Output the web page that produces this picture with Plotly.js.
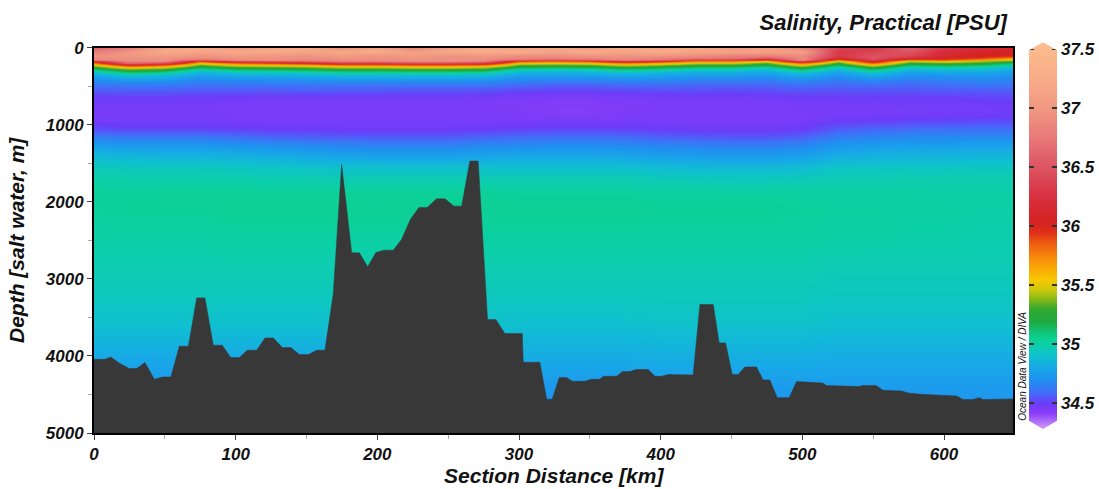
<!DOCTYPE html>
<html>
<head>
<meta charset="utf-8">
<script src="https://cdn.plot.ly/plotly-3.0.1.min.js"></script>
<style>html,body{margin:0;padding:0;background:#fff;}#chart{width:1099px;height:489px;}</style>
</head>
<body>
<div id="chart"></div>
<script>
// ---- Data ----
const distanceKm = [0,25,50,75,100,125,150,175,200,225,250,275,300,325,350,375,400,425,450,475,500,525,550,575,600,625,650];

// Upper water column: one profile per station (depths in upperDepths)
const upperDepths = [0,50,100,125,150,175,200,225,250,275,300,325,350,375];
const upperProfiles = [
  [36.60,36.80,36.95, 36.90,36.84,36.34,35.81,35.50,35.29,35.14,34.99,34.88,34.82,34.76],
  [36.80,37.00,37.00, 36.95,36.95,36.85,36.68,36.08,35.67,35.40,35.23,35.08,34.93,34.85],
  [37.15,37.25,37.05, 36.95,36.95,36.90,36.47,35.88,35.55,35.32,35.17,35.02,34.89,34.83],
  [37.25,37.15,36.95, 36.90,36.60,35.95,35.60,35.35,35.20,35.05,34.90,34.84,34.78,34.74],
  [37.05,37.20,37.00, 36.95,36.90,36.47,35.88,35.55,35.32,35.17,35.02,34.89,34.83,34.77],
  [37.20,37.25,37.00, 36.95,36.95,36.60,35.95,35.60,35.35,35.20,35.05,34.90,34.84,34.78],
  [37.25,37.15,36.95, 36.95,36.85,36.68,36.08,35.67,35.40,35.23,35.08,34.93,34.85,34.79],
  [36.95,37.20,37.05, 36.95,36.90,36.84,36.34,35.81,35.50,35.29,35.14,34.99,34.88,34.82],
  [37.15,37.25,36.95, 36.95,36.90,36.84,36.34,35.81,35.50,35.29,35.14,34.99,34.88,34.82],
  [36.85,37.10,37.05, 36.95,36.95,36.90,36.47,35.88,35.55,35.32,35.17,35.02,34.89,34.83],
  [37.10,37.20,36.95, 36.95,36.95,36.90,36.47,35.88,35.55,35.32,35.17,35.02,34.89,34.83],
  [37.25,37.25,37.00, 36.95,36.90,36.84,36.34,35.81,35.50,35.29,35.14,34.99,34.88,34.82],
  [37.15,37.25,36.90, 36.90,36.60,35.95,35.60,35.35,35.20,35.05,34.90,34.84,34.78,34.74],
  [37.25,37.15,36.90, 36.85,36.47,35.88,35.55,35.32,35.17,35.02,34.89,34.83,34.77,34.73],
  [37.05,37.25,36.95, 36.90,36.60,35.95,35.60,35.35,35.20,35.05,34.90,34.84,34.78,34.74],
  [37.25,37.15,36.95, 36.90,36.84,36.34,35.81,35.50,35.29,35.14,34.99,34.88,34.82,34.76],
  [37.15,37.25,36.95, 36.85,36.68,36.08,35.67,35.40,35.23,35.08,34.93,34.85,34.79,34.75],
  [37.25,37.15,36.90, 36.80,36.34,35.81,35.50,35.29,35.14,34.99,34.88,34.82,34.76,34.72],
  [37.05,37.15,36.80, 36.75,36.34,35.81,35.50,35.29,35.14,34.99,34.88,34.82,34.76,34.72],
  [37.15,37.10,36.80, 36.55,35.95,35.60,35.35,35.20,35.05,34.90,34.84,34.78,34.74,34.70],
  [36.85,37.10,36.90, 36.90,36.90,36.47,35.88,35.55,35.32,35.17,35.02,34.89,34.83,34.77],
  [36.40,36.30,36.30, 36.20,35.81,35.50,35.29,35.14,34.99,34.88,34.82,34.76,34.72,34.69],
  [36.30,36.40,36.50, 36.50,36.40,36.20,35.88,35.55,35.32,35.17,35.02,34.89,34.83,34.77],
  [36.60,36.50,36.40, 36.20,35.81,35.50,35.29,35.14,34.99,34.88,34.82,34.76,34.72,34.69],
  [36.30,36.20,36.15, 36.05,35.90,35.60,35.35,35.20,35.05,34.90,34.84,34.78,34.74,34.70],
  [36.20,36.10,36.05, 35.95,35.70,35.45,35.30,35.15,35.00,34.90,34.84,34.79,34.75,34.72],
  [36.10,36.05,36.00, 35.70,35.50,35.32,35.15,35.00,34.90,34.84,34.79,34.75,34.72,34.69]
];

// Deep water column: one row per depth (deepDepths), one value per station
const deepDepths = [450,550,650,750,850,950,1050,1150,1250,1350,1450,1550,1700,1900,2100,2400,2800,3200,3600,4000,4400,4800,5000];
const deepRows = [
  [34.64,34.66,34.66,34.63,34.64,34.64,34.64,34.64,34.64,34.64,34.64,34.64,34.62,34.60,34.60,34.62,34.62,34.60,34.60,34.60,34.63,34.60,34.62,34.60,34.62,34.64,34.64],
  [34.56,34.57,34.57,34.56,34.56,34.56,34.57,34.56,34.56,34.55,34.55,34.55,34.53,34.52,34.52,34.53,34.54,34.54,34.53,34.54,34.55,34.55,34.55,34.55,34.56,34.56,34.57],
  [34.50,34.50,34.50,34.49,34.49,34.48,34.48,34.48,34.48,34.48,34.48,34.47,34.46,34.45,34.45,34.46,34.47,34.47,34.47,34.48,34.49,34.49,34.50,34.50,34.50,34.51,34.52],
  [34.47,34.47,34.47,34.47,34.46,34.46,34.46,34.46,34.46,34.46,34.46,34.46,34.45,34.44,34.44,34.45,34.46,34.46,34.46,34.46,34.47,34.47,34.47,34.48,34.48,34.48,34.49],
  [34.47,34.46,34.46,34.47,34.46,34.46,34.46,34.46,34.46,34.46,34.46,34.46,34.45,34.44,34.44,34.45,34.46,34.46,34.46,34.46,34.46,34.47,34.47,34.47,34.48,34.48,34.49],
  [34.48,34.48,34.48,34.48,34.47,34.47,34.47,34.47,34.47,34.47,34.47,34.47,34.47,34.47,34.47,34.47,34.47,34.46,34.46,34.46,34.47,34.50,34.51,34.52,34.52,34.53,34.53],
  [34.53,34.52,34.52,34.52,34.51,34.50,34.50,34.49,34.49,34.49,34.49,34.50,34.51,34.52,34.52,34.51,34.50,34.49,34.49,34.49,34.50,34.56,34.58,34.59,34.60,34.60,34.60],
  [34.64,34.62,34.62,34.62,34.60,34.58,34.57,34.56,34.56,34.56,34.56,34.58,34.59,34.60,34.60,34.59,34.57,34.56,34.55,34.55,34.57,34.64,34.66,34.68,34.68,34.68,34.68],
  [34.74,34.72,34.72,34.72,34.70,34.68,34.66,34.65,34.64,34.64,34.64,34.66,34.67,34.68,34.68,34.67,34.65,34.64,34.63,34.63,34.65,34.72,34.74,34.75,34.75,34.76,34.76],
  [34.84,34.82,34.81,34.81,34.80,34.78,34.76,34.74,34.73,34.73,34.73,34.75,34.76,34.76,34.76,34.75,34.73,34.72,34.71,34.71,34.73,34.79,34.81,34.82,34.82,34.83,34.83],
  [34.90,34.89,34.88,34.88,34.87,34.86,34.84,34.83,34.82,34.82,34.82,34.83,34.84,34.84,34.84,34.83,34.81,34.80,34.79,34.79,34.81,34.86,34.87,34.88,34.88,34.89,34.89],
  [34.95,34.94,34.94,34.94,34.93,34.92,34.91,34.90,34.90,34.90,34.90,34.90,34.90,34.90,34.90,34.90,34.88,34.87,34.87,34.87,34.88,34.92,34.93,34.93,34.93,34.94,34.94],
  [35.00,34.99,34.99,34.99,34.99,34.98,34.98,34.97,34.97,34.97,34.97,34.97,34.97,34.97,34.97,34.97,34.96,34.96,34.95,34.95,34.96,34.97,34.97,34.98,34.98,34.98,34.98],
  [35.03,35.03,35.04,35.04,35.04,35.04,35.04,35.04,35.04,35.04,35.04,35.04,35.03,35.03,35.03,35.03,35.02,35.02,35.02,35.02,35.02,35.01,35.01,35.01,35.00,35.00,35.00],
  [35.03,35.04,35.04,35.04,35.05,35.05,35.05,35.05,35.05,35.05,35.05,35.05,35.05,35.05,35.05,35.05,35.04,35.04,35.04,35.04,35.03,35.02,35.02,35.01,35.01,35.00,35.00],
  [35.01,35.01,35.01,35.01,35.02,35.02,35.02,35.02,35.02,35.02,35.02,35.02,35.02,35.02,35.02,35.02,35.02,35.02,35.02,35.02,35.02,35.01,35.01,35.00,35.00,34.99,34.99],
  [34.98,34.98,34.98,34.98,34.98,34.98,34.98,34.98,34.98,34.98,34.98,34.98,34.98,34.98,34.98,34.98,34.98,34.98,34.98,34.98,34.98,34.97,34.97,34.97,34.97,34.97,34.97],
  [34.95,34.95,34.95,34.95,34.95,34.95,34.95,34.95,34.95,34.95,34.95,34.95,34.95,34.95,34.95,34.95,34.95,34.95,34.95,34.95,34.95,34.94,34.94,34.94,34.94,34.94,34.94],
  [34.90,34.90,34.90,34.90,34.90,34.90,34.90,34.90,34.90,34.90,34.90,34.90,34.90,34.90,34.90,34.90,34.91,34.91,34.91,34.91,34.91,34.90,34.90,34.90,34.90,34.90,34.90],
  [34.81,34.81,34.81,34.81,34.81,34.81,34.81,34.81,34.81,34.81,34.81,34.81,34.82,34.82,34.82,34.82,34.83,34.83,34.83,34.83,34.83,34.82,34.82,34.82,34.82,34.82,34.82],
  [34.74,34.74,34.74,34.74,34.74,34.74,34.74,34.74,34.74,34.74,34.74,34.74,34.74,34.74,34.74,34.74,34.75,34.75,34.75,34.75,34.75,34.75,34.75,34.75,34.75,34.75,34.75],
  [34.70,34.70,34.70,34.70,34.70,34.70,34.70,34.70,34.70,34.70,34.70,34.70,34.69,34.69,34.69,34.69,34.70,34.70,34.70,34.70,34.70,34.70,34.70,34.70,34.70,34.70,34.70],
  [34.68,34.68,34.68,34.68,34.68,34.68,34.68,34.68,34.68,34.68,34.68,34.68,34.68,34.68,34.68,34.68,34.68,34.68,34.68,34.68,34.68,34.68,34.68,34.68,34.68,34.68,34.68]
];

// Bottom topography along the section
const bathyKm = [0,7.8,11.8,18.3,24.9,30.1,36,42.6,48.5,54.3,60.2,66.6,72.5,78.3,84.2,90.5,96.5,102.6,108.2,114.8,120.7,126.6,132.9,139,144.9,151.3,157.2,163,168.9,174.8,181.9,187.3,193.2,199,204.7,211.2,217.1,223.4,229.4,235.2,241.8,247.7,254.1,259.5,265.3,271.2,277.8,283.7,290,302.3,303,314.7,319.5,323.4,328.4,333.6,337.5,346.5,351.2,357.1,359.5,368.9,373.1,378.3,382.3,391.2,395.9,400.6,405.3,422.9,427.7,437.1,441.3,445.8,450.5,454.7,459.4,467.6,472.3,477.1,482.2,490.7,495.9,500.6,505.3,514.3,517,537.8,540.6,541.8,551.9,557,570,574.7,584.1,608.8,613.5,620.5,624.8,627.6,639.4,641.3,649];
const bathyDepth = [4043,4043,4013,4099,4164,4164,4086,4303,4273,4273,3874,3874,3247,3247,3861,3861,4021,4021,3926,3926,3766,3766,3891,3891,3982,3982,3926,3926,3190,1515,2662,2662,2844,2657,2627,2627,2488,2225,2073,2073,1961,1961,2056,2056,1471,1471,3528,3528,3709,3709,4082,4082,4562,4562,4281,4281,4329,4329,4303,4303,4264,4264,4203,4203,4177,4177,4264,4264,4242,4246,3333,3333,3831,3831,4242,4242,4143,4143,4312,4312,4541,4541,4333,4337,4350,4350,4385,4390,4398,4385,4385,4446,4455,4481,4498,4519,4566,4566,4541,4566,4566,4558,4558];

const depthAxisMax = 5000;
const distAxisMax = 649;
const colorTicks = [34.5,35,35.5,36,36.5,37,37.5];
const colorTickText = ['34.5','35','35.5','36','36.5','37','37.5'];
const cMin = 34.28, cMax = 37.56;

// ODV-like palette (value, colour)
const paletteVals = [34.28,34.35,34.42,34.5,34.6,34.7,34.8,34.9,35.0,35.06,35.12,35.2,35.3,35.38,35.46,35.55,35.7,35.85,35.95,36.05,36.25,36.5,36.75,37.0,37.25,37.56];
const paletteCols = ['#dd9cfa','#b070f8','#8a3cf8','#6c3cf8','#4070f8','#2090f0','#18a8e8','#10c0d0','#0cd0a8','#0cd090','#14c070','#20a840','#30a830','#80b818','#c8c810','#f8c800','#f89808','#f06010','#e03018','#d42222','#d83040','#dc5462','#e87878','#f09882','#f8ac88','#fcbe8e'];

// ---- Build the tables Plotly needs ----
const depths = upperDepths.concat(deepDepths);
const upperRows = upperDepths.map((d, i) => upperProfiles.map(p => p[i]));
const z = upperRows.concat(deepRows);
const colorscale = paletteVals.map((v, i) => [(v - cMin) / (cMax - cMin), paletteCols[i]]);

const F = 'Liberation Sans, Arial, Helvetica, sans-serif';
const boldItalic = (size) => ({family: F, size: size, color: '#111', weight: 'bold', style: 'italic'});

const heat = {
  type: 'heatmap', xaxis: 'x', yaxis: 'y',
  x: distanceKm, y: depths, z: z,
  zsmooth: 'best', zmin: cMin, zmax: cMax,
  colorscale: colorscale, showscale: false, hoverinfo: 'skip'
};

const bathy = {
  type: 'scatter', mode: 'lines', xaxis: 'x', yaxis: 'y',
  x: bathyKm.concat([bathyKm[bathyKm.length - 1], bathyKm[0]]),
  y: bathyDepth.concat([depthAxisMax, depthAxisMax]),
  fill: 'toself', fillcolor: '#383838',
  line: {color: '#383838', width: 0.5},
  hoverinfo: 'skip', showlegend: false
};

// colour key drawn as its own small heatmap on a dedicated axis
const colorKey = {
  type: 'heatmap', xaxis: 'x2', yaxis: 'y2',
  x: [0], y: [cMin, cMax], z: [[cMin], [cMax]],
  zsmooth: 'best', zmin: cMin, zmax: cMax,
  colorscale: colorscale, showscale: false, hoverinfo: 'skip'
};

// white corners that turn the key ends into arrow tips
const tip = 0.021;
const white = {type: 'path', xref: 'x2 domain', yref: 'y2 domain', fillcolor: '#ffffff', line: {width: 0}, layer: 'above'};
const arrowShapes = [
  Object.assign({}, white, {path: `M 0,${1 - tip} L 0.5,1 L 0.5,1.02 L -0.1,1.02 L -0.1,${1 - tip} Z`}),
  Object.assign({}, white, {path: `M 1,${1 - tip} L 0.5,1 L 0.5,1.02 L 1.1,1.02 L 1.1,${1 - tip} Z`}),
  Object.assign({}, white, {path: `M 0,${tip} L 0.5,0 L 0.5,-0.02 L -0.1,-0.02 L -0.1,${tip} Z`}),
  Object.assign({}, white, {path: `M 1,${tip} L 0.5,0 L 0.5,-0.02 L 1.1,-0.02 L 1.1,${tip} Z`})
];

const layout = {
  width: 1099, height: 489, autosize: false,
  margin: {l: 94, r: 39, t: 42, b: 56.3, pad: 0},
  paper_bgcolor: '#ffffff', plot_bgcolor: '#ffffff',
  showlegend: false,
  title: {
    text: 'Salinity, Practical [PSU]',
    font: boldItalic(22),
    xref: 'paper', x: 0.9451, xanchor: 'right',
    yref: 'container', y: 0.955, yanchor: 'middle'
  },
  xaxis: {
    domain: [0, 0.9518], anchor: 'y',
    range: [0, distAxisMax], tick0: 0, dtick: 100,
    ticks: 'outside', ticklen: 5, tickwidth: 1, tickcolor: '#444',
    showline: true, mirror: true, linecolor: '#000', linewidth: 2,
    showgrid: false, zeroline: false,
    tickfont: boldItalic(17),
    minor: {dtick: 50, ticks: 'outside', ticklen: 4, tickcolor: '#aaa', showgrid: false},
    title: {text: 'Section Distance [km]', font: boldItalic(21), standoff: 5}
  },
  yaxis: {
    domain: [0, 0.98541], anchor: 'x',
    range: [depthAxisMax, 0], tick0: 0, dtick: 1000,
    ticks: 'outside', ticklen: 5, tickwidth: 1, tickcolor: '#444',
    showline: true, mirror: true, linecolor: '#000', linewidth: 2,
    showgrid: false, zeroline: false,
    tickfont: boldItalic(17),
    minor: {dtick: 500, ticks: 'outside', ticklen: 4, tickcolor: '#aaa', showgrid: false},
    title: {text: 'Depth [salt water, m]', font: boldItalic(21), standoff: 14}
  },
  xaxis2: {
    domain: [0.9679, 0.9969], anchor: 'y2', range: [-0.5, 0.5],
    visible: false, fixedrange: true
  },
  yaxis2: {
    domain: [0.0105, 0.9995], anchor: 'x2', side: 'right',
    range: [cMin, cMax], tickvals: colorTicks, ticktext: colorTickText,
    ticks: 'inside', ticklen: 5, tickwidth: 1.5, tickcolor: '#333',
    mirror: 'ticks', showline: false, showgrid: false, zeroline: false,
    tickfont: boldItalic(17), ticklabelstandoff: 3, fixedrange: true
  },
  shapes: arrowShapes,
  annotations: [{
    text: 'Ocean Data View / DIVA',
    xref: 'paper', yref: 'paper', x: 0.9617, y: 0.1694,
    xanchor: 'center', yanchor: 'middle', textangle: -90, showarrow: false,
    font: {family: F, size: 10, color: '#111', style: 'italic'}
  }]
};

Plotly.newPlot('chart', [heat, bathy, colorKey], layout, {staticPlot: true, displayModeBar: false});
</script>
</body>
</html>
